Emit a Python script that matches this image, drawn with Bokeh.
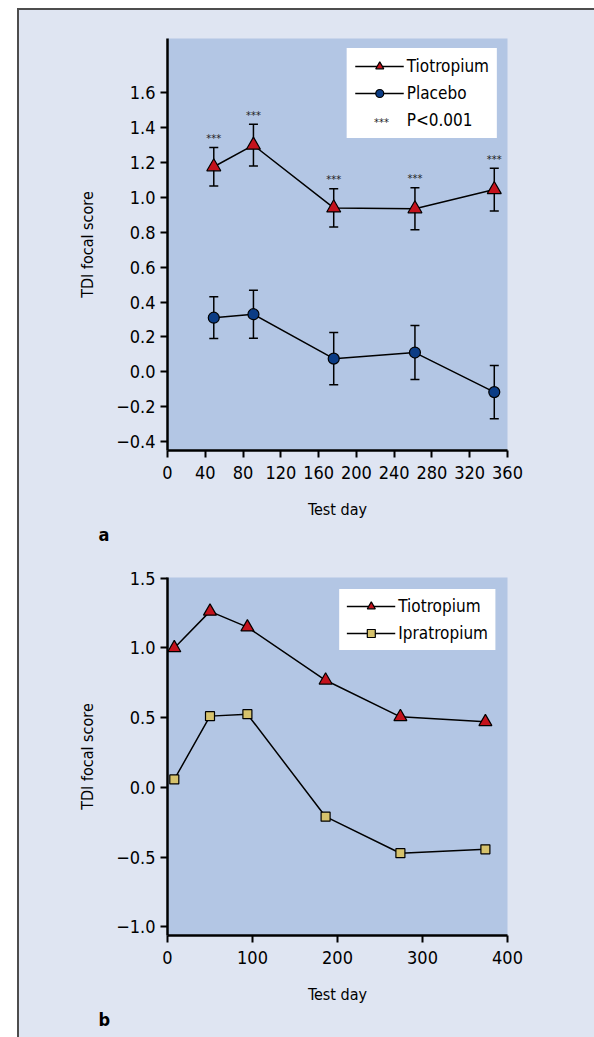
import math
from bokeh.plotting import figure
from bokeh.models import (Range1d, FixedTicker, CustomJSTickFormatter, Legend, LegendItem,
                          Title, ColumnDataSource)
from bokeh.layouts import column
from bokeh.embed import file_html
from bokeh.resources import INLINE
from bokeh.core.properties import value

# ---------------- data: panel a ----------------
days_a = [49, 91, 176, 262, 346]
tio_a = [1.176, 1.30, 0.94, 0.935, 1.045]
tio_a_err = [0.11, 0.12, 0.11, 0.12, 0.123]
pla_a = [0.31, 0.33, 0.075, 0.11, -0.117]
pla_a_err = [0.12, 0.138, 0.15, 0.155, 0.153]
sig_a = ["***", "***", "***", "***", "***"]
xticks_a = [0, 40, 80, 120, 160, 200, 240, 280, 320, 360]
yticks_a = [-0.4, -0.2, 0.0, 0.2, 0.4, 0.6, 0.8, 1.0, 1.2, 1.4, 1.6]

# ---------------- data: panel b ----------------
days_b = [8, 50, 94, 186, 274, 374]
tio_b = [1.0, 1.262, 1.149, 0.768, 0.506, 0.47]
ipr_b = [0.057, 0.511, 0.525, -0.21, -0.472, -0.444]
xticks_b = [0, 100, 200, 300, 400]
yticks_b = [-1.0, -0.5, 0.0, 0.5, 1.0, 1.5]

FONT = "DejaVu Sans Condensed"
OUTER = "#dfe5f2"
INNER = "#b3c6e4"
RED = "#c4121c"
BLUE = "#0b3c85"
TAN = "#d6c26c"


def style(p, xticks, yticks):
    p.background_fill_color = INNER
    p.border_fill_color = OUTER
    p.outline_line_color = None
    p.xgrid.grid_line_color = None
    p.ygrid.grid_line_color = None
    p.xaxis.ticker = FixedTicker(ticks=xticks)
    p.yaxis.ticker = FixedTicker(ticks=yticks)
    p.yaxis.formatter = CustomJSTickFormatter(
        code="return (tick < 0 ? '\u2212' : '') + Math.abs(tick).toFixed(1);")
    for ax in (p.xaxis, p.yaxis):
        ax.axis_line_width = 2.5
        ax.axis_line_color = "black"
        ax.major_tick_line_width = 2
        ax.major_tick_line_color = "black"
        ax.major_tick_out = 7
        ax.major_tick_in = 0
        ax.minor_tick_line_color = None
        ax.major_label_text_font = FONT
        ax.major_label_text_font_size = "18px"
        ax.major_label_text_color = "black"
        ax.major_label_standoff = 5
        ax.axis_label_text_font = FONT
        ax.axis_label_text_font_size = "16px"
        ax.axis_label_text_font_style = "normal"
        ax.axis_label_text_color = "black"
    p.xaxis.major_label_standoff = 8
    p.xaxis.axis_label = "Test day"
    p.xaxis.axis_label_standoff = 18
    p.yaxis.axis_label = "TDI focal score"
    p.yaxis.axis_label_standoff = 16


def make_legend(items, margin, border):
    return Legend(items=items, location="top_right", margin=margin, padding=0, spacing=7,
                  glyph_width=49, glyph_height=20, label_height=20, label_standoff=3,
                  background_fill_color="white", background_fill_alpha=1.0,
                  border_line_color="white", border_line_width=border,
                  label_text_font=FONT, label_text_font_size="17px", label_text_color="black")


def panel_tag(p, txt):
    p.add_layout(Title(text=txt, align="left", offset=-69, text_font=FONT,
                       text_font_size="18px", text_font_style="bold", text_color="black",
                       standoff=0), "below")


# ---------------- panel a ----------------
pa = figure(width=575, height=540, output_backend="svg", toolbar_location=None,
            x_range=Range1d(0, 360), y_range=Range1d(-0.452, 1.912),
            min_border_left=148, min_border_right=87, min_border_top=28, min_border_bottom=100)
style(pa, xticks_a, yticks_a)

src_t = ColumnDataSource(dict(x=days_a, y=tio_a,
                              lo=[v - e for v, e in zip(tio_a, tio_a_err)],
                              hi=[v + e for v, e in zip(tio_a, tio_a_err)], s=sig_a))
src_p = ColumnDataSource(dict(x=days_a, y=pla_a,
                              lo=[v - e for v, e in zip(pla_a, pla_a_err)],
                              hi=[v + e for v, e in zip(pla_a, pla_a_err)]))
for src in (src_t, src_p):
    pa.segment(x0="x", y0="lo", x1="x", y1="hi", source=src, line_color="black", line_width=1.5)
    pa.scatter(x="x", y="lo", source=src, marker="dash", size=9, line_color="black", line_width=1.5)
    pa.scatter(x="x", y="hi", source=src, marker="dash", size=9, line_color="black", line_width=1.5)

lt = pa.line(x="x", y="y", source=src_t, line_color="black", line_width=1.5)
mt = pa.scatter(x="x", y="y", source=src_t, marker="triangle", size=14, fill_color=RED,
                line_color="black", line_width=1.2)
lp = pa.line(x="x", y="y", source=src_p, line_color="black", line_width=1.5)
mp = pa.scatter(x="x", y="y", source=src_p, marker="circle", size=11, fill_color=BLUE,
                line_color="black", line_width=1.2)
st = pa.text(x="x", y="hi", text="s", source=src_t, y_offset=-9, text_align="center",
             text_baseline="middle", text_font=value(FONT), text_font_size="11px",
             text_color="#222222")

pa.add_layout(make_legend([LegendItem(label="Tiotropium", renderers=[lt, mt]),
                           LegendItem(label="Placebo", renderers=[lp, mp]),
                           LegendItem(label="P<0.001", renderers=[st])], 10, 8))
# the "***" key of the significance row, drawn on top of the main legend box
pa.add_layout(Legend(items=[LegendItem(label="***", renderers=[st])],
                     location=(207, 321), margin=0, padding=0, spacing=0,
                     glyph_width=0, glyph_height=11, label_height=11, label_standoff=0,
                     background_fill_alpha=0, border_line_color=None,
                     label_text_font=FONT, label_text_font_size="11px",
                     label_text_color="#222222"))
panel_tag(pa, "a")

# ---------------- panel b ----------------
pb = figure(width=575, height=487, output_backend="svg", toolbar_location=None,
            x_range=Range1d(0, 400), y_range=Range1d(-1.062, 1.505),
            min_border_left=148, min_border_right=87, min_border_top=27, min_border_bottom=102)
style(pb, xticks_b, yticks_b)

lt2 = pb.line(x=days_b, y=tio_b, line_color="black", line_width=1.5)
mt2 = pb.scatter(x=days_b, y=tio_b, marker="triangle", size=13, fill_color=RED,
                 line_color="black", line_width=1.2)
li2 = pb.line(x=days_b, y=ipr_b, line_color="black", line_width=1.5)
mi2 = pb.scatter(x=days_b, y=ipr_b, marker="square", size=9, fill_color=TAN,
                 line_color="black", line_width=1.2)
pb.add_layout(make_legend([LegendItem(label="Tiotropium", renderers=[lt2, mt2]),
                           LegendItem(label="Ipratropium", renderers=[li2, mi2])], 12, 7))
panel_tag(pb, "b")

layout = column(pa, pb, spacing=0,
                styles={"margin-left": "17px", "margin-top": "8px",
                        "border-left": "2px solid #4d4d4d", "border-top": "2px solid #4d4d4d",
                        "background-color": OUTER})

open("out.html", "w").write(file_html(layout, INLINE))
